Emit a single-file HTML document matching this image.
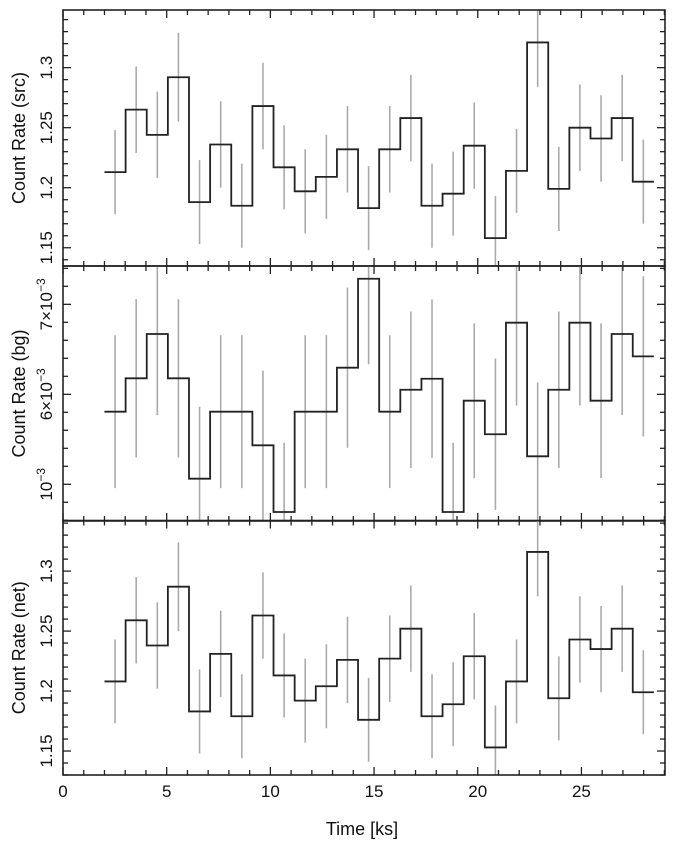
<!DOCTYPE html>
<html><head><meta charset="utf-8">
<style>
html,body{margin:0;padding:0;background:#fff;}
svg{display:block;font-family:"Liberation Sans",Arial,sans-serif;}
</style></head>
<body>
<svg id="chart" width="676" height="846" viewBox="0 0 676 846" xmlns="http://www.w3.org/2000/svg"></svg>
<script>
// ---- data ----
const binStart = 2.0;
const binWidth = 1.019;
const srcRate = [1.213,1.265,1.244,1.292,1.188,1.236,1.185,1.268,1.217,1.197,1.209,1.232,1.183,1.232,1.258,1.185,1.195,1.235,1.158,1.214,1.321,1.199,1.250,1.241,1.258,1.205];
const srcErr  = [0.035,0.036,0.036,0.037,0.035,0.036,0.035,0.036,0.035,0.035,0.035,0.036,0.035,0.036,0.036,0.035,0.035,0.036,0.035,0.035,0.037,0.035,0.036,0.036,0.036,0.035];
const bgRate  = [5.807,6.178,6.670,6.178,5.062,5.807,5.807,5.433,4.692,5.807,5.807,6.296,7.284,5.807,6.051,6.173,4.692,5.929,5.556,6.796,5.311,6.051,6.796,5.929,6.670,6.422];
const bgErr   = [0.85,0.88,0.90,0.88,0.80,0.85,0.85,0.83,0.77,0.85,0.85,0.89,0.95,0.85,0.87,0.88,0.77,0.86,0.84,0.92,0.82,0.87,0.92,0.86,0.90,0.89];
const netRate = [1.208,1.259,1.238,1.287,1.183,1.231,1.179,1.263,1.213,1.192,1.204,1.226,1.176,1.227,1.252,1.179,1.189,1.229,1.153,1.208,1.316,1.194,1.243,1.235,1.252,1.199];
const netErr  = [0.035,0.036,0.036,0.037,0.035,0.036,0.035,0.036,0.035,0.035,0.035,0.036,0.035,0.036,0.036,0.035,0.035,0.036,0.035,0.035,0.037,0.035,0.036,0.036,0.036,0.035];
const xTickLabels = ["0","5","10","15","20","25"];
const srcTicks = [1.15,1.2,1.25,1.3];
const bgTicks = [5,6,7];
const netTicks = [1.15,1.2,1.25,1.3];

// ---- layout ----
const NS="http://www.w3.org/2000/svg";
const svg=document.getElementById('chart');
const X0=63, X1=665, T0=0, T1=29.03;
function xs(t){return X0+(t-T0)/(T1-T0)*(X1-X0);}
function mk(tag,attrs,parent){const e=document.createElementNS(NS,tag);for(const k in attrs)e.setAttribute(k,attrs[k]);(parent||svg).appendChild(e);return e;}

const panels=[
 {name:'src',top:10,bot:266,vmin:1.1348,vmax:1.348,rate:srcRate,err:srcErr,ticks:srcTicks,minor:0.01,label:'Count Rate (src)',fmt:v=>String(v)},
 {name:'bg',top:266,bot:521,vmin:4.592,vmax:7.426,rate:bgRate,err:bgErr,ticks:bgTicks,minor:0.2,label:'Count Rate (bg)',fmt:null},
 {name:'net',top:520.5,bot:775,vmin:1.13,vmax:1.3422,rate:netRate,err:netErr,ticks:netTicks,minor:0.01,label:'Count Rate (net)',fmt:v=>String(v)}
];

panels.forEach(p=>{
  const ys=v=>p.bot-(v-p.vmin)/(p.vmax-p.vmin)*(p.bot-p.top);
  const g=mk('g',{});
  
  
  const clipId='clip-'+p.name;
  const cp=mk('clipPath',{id:clipId},g);
  mk('rect',{x:X0,y:p.top,width:X1-X0,height:p.bot-p.top},cp);
  // error bars
  const eg=mk('g',{'clip-path':'url(#'+clipId+')'},g);
  p.rate.forEach((v,i)=>{
    const xc=xs(binStart+(i+0.5)*binWidth);
    const l=mk('line',{x1:xc,x2:xc,y1:ys(v-p.err[i]),y2:ys(v+p.err[i]),stroke:'#aaaaaa','stroke-width':1.6},eg);
    
    
  });
  // step line
  let d='';
  p.rate.forEach((v,i)=>{
    const xa=xs(binStart+i*binWidth), xb=xs(binStart+(i+1)*binWidth);
    d+=(i===0?'M':'L')+xa.toFixed(2)+','+ys(v).toFixed(2)+'L'+xb.toFixed(2)+','+ys(v).toFixed(2);
  });
  const path=mk('path',{d:d,fill:'none',stroke:'#222','stroke-width':1.8,'clip-path':'url(#'+clipId+')'},g);
  
  
  // frame
  const fr=mk('rect',{x:X0,y:p.top,width:X1-X0,height:p.bot-p.top,fill:'none',stroke:'#222','stroke-width':1.6},g);
  
  
  // x ticks
  for(let t=0;t<=29;t++){
    const x=xs(t), L=(t%5===0)?8:5;
    mk('line',{x1:x,x2:x,y1:p.bot,y2:p.bot-L,stroke:'#222','stroke-width':1.3},g);
    mk('line',{x1:x,x2:x,y1:p.top,y2:p.top+L,stroke:'#222','stroke-width':1.3},g);
  }
  // y ticks
  const start=Math.ceil(p.vmin/p.minor-1e-6);
  for(let k=start;k*p.minor<=p.vmax+1e-9;k++){
    const v=k*p.minor, y=ys(v);
    const major=p.ticks.some(t=>Math.abs(t-v)<1e-6);
    const L=major?8:5;
    mk('line',{x1:X0,x2:X0+L,y1:y,y2:y,stroke:'#222','stroke-width':1.3},g);
    mk('line',{x1:X1,x2:X1-L,y1:y,y2:y,stroke:'#222','stroke-width':1.3},g);
  }
  // y tick labels
  p.ticks.forEach(v=>{
    const y=ys(v);
    const tx=mk('text',{x:0,y:0,transform:'translate(52,'+y+') rotate(-90)','text-anchor':'middle','font-size':17,fill:'#111'},g);
    
    
    if(p.fmt){tx.textContent=p.fmt(v);}
    else{
      tx.textContent=(v===5?'':v+'×')+'10';
      const s=mk('tspan',{dy:-7,'font-size':12},tx); s.textContent='−3';
    }
  });
  // y title
  const yt=mk('text',{x:0,y:0,transform:'translate(25,'+((p.top+p.bot)/2)+') rotate(-90)','text-anchor':'middle','font-size':18,fill:'#111'},g);
  
  
  yt.textContent=p.label;
});
// fix "5×10" label
// x tick labels
xTickLabels.forEach(s=>{
  const t=mk('text',{x:xs(parseFloat(s)),y:797,'text-anchor':'middle','font-size':17,fill:'#111'});
  
  
  t.textContent=s;
});
const xt=mk('text',{x:362,y:835,'text-anchor':'middle','font-size':18,fill:'#111'});


xt.textContent='Time [ks]';
</script>
</body></html>
